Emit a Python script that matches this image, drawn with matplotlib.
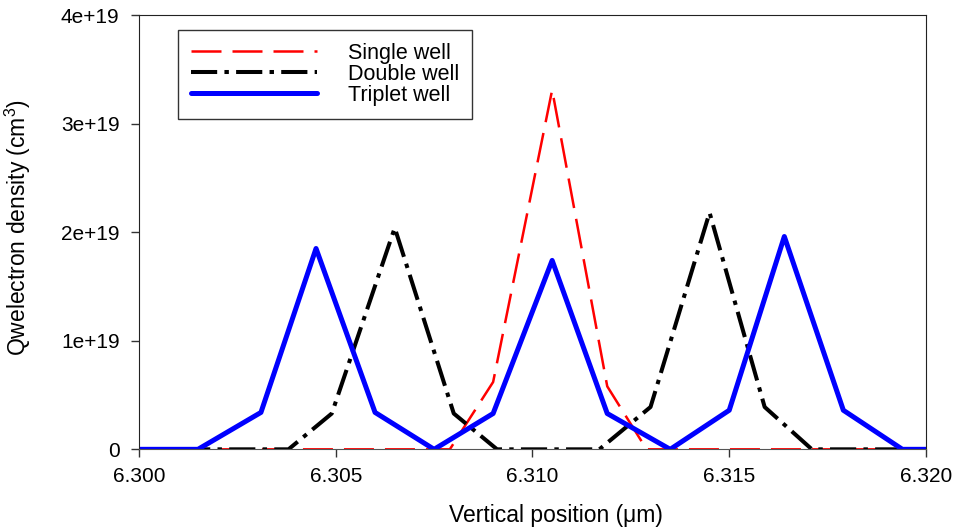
import numpy as np
import matplotlib
matplotlib.use('Agg')
import matplotlib.pyplot as plt
from matplotlib.ticker import FuncFormatter

plt.rcParams['font.family'] = ['Liberation Sans', 'DejaVu Sans']
plt.rcParams['mathtext.fontset'] = 'custom'
plt.rcParams['mathtext.rm'] = 'Liberation Sans'

# Electron density profiles (x in um, density in cm^-3)
single_x = [6.3000, 6.3079, 6.3090, 6.3105, 6.3119, 6.3129, 6.3200]
single_y = [0, 0, 0.62e19, 3.31e19, 0.58e19, 0, 0]

double_x = [6.3000, 6.3038, 6.3049, 6.3065, 6.3080, 6.3091, 6.3117,
            6.3130, 6.3145, 6.3159, 6.3171, 6.3200]
double_y = [0, 0, 0.33e19, 2.04e19, 0.33e19, 0, 0,
            0.39e19, 2.18e19, 0.39e19, 0, 0]

triplet_x = [6.3000, 6.3015, 6.3031, 6.3045, 6.3060, 6.3075, 6.3090, 6.3105,
             6.3119, 6.3135, 6.3150, 6.3164, 6.3179, 6.3194, 6.3200]
triplet_y = [0, 0, 0.34e19, 1.85e19, 0.34e19, 0, 0.33e19, 1.74e19,
             0.33e19, 0, 0.36e19, 1.96e19, 0.36e19, 0, 0]

labels = ['Single well', 'Double well', 'Triplet well']

fig = plt.figure(figsize=(9.57, 5.29), dpi=100)
ax = fig.add_axes([0.1452, 0.1506, 0.8224, 0.821])

ax.plot(single_x, single_y, color='red', lw=1.8, ls=(0, (12, 4.4)), label=labels[0])
ax.plot(double_x, double_y, color='black', lw=2.9, ls=(0, (6.5, 1.8, 1.1, 1.8)), label=labels[1])
ax.plot(triplet_x, triplet_y, color='blue', lw=3.6, solid_capstyle='round', label=labels[2])

ax.set_xlim(6.300, 6.320)
ax.set_ylim(0, 4e19)
ax.set_xticks(np.arange(6.300, 6.3201, 0.005))
ax.set_yticks([0, 1e19, 2e19, 3e19, 4e19])
ax.xaxis.set_major_formatter(FuncFormatter(lambda v, p: f'{v:.3f}'))
ax.yaxis.set_major_formatter(FuncFormatter(lambda v, p: '0' if v == 0 else f'{v/1e19:.0f}e+19'))
ax.tick_params(axis='both', direction='out', length=6, width=1, labelsize=15, color='#333333')
ax.tick_params(axis='x', pad=7)
ax.tick_params(axis='y', pad=8)
for side in ['left', 'right', 'top']:
    ax.spines[side].set_color('#222222')
ax.spines['bottom'].set_color('#555555')

ax.set_xlabel('Vertical position (\u03bcm)', fontsize=16.5)
ax.xaxis.set_label_coords(0.53, -0.125)
ax.set_ylabel('Qwelectron density (cm$^{3}$)', fontsize=16.5)
ax.yaxis.set_label_coords(-0.134, 0.51)

leg = ax.legend(loc='upper left', bbox_to_anchor=(0.0496, 0.9655), fontsize=15.5,
                frameon=True, fancybox=False, edgecolor='black', handlelength=5.85,
                handletextpad=1.45, labelspacing=0.0, borderpad=0.6, borderaxespad=0)
leg.get_frame().set_linewidth(1.0)

fig.savefig('out.png', dpi=100)
